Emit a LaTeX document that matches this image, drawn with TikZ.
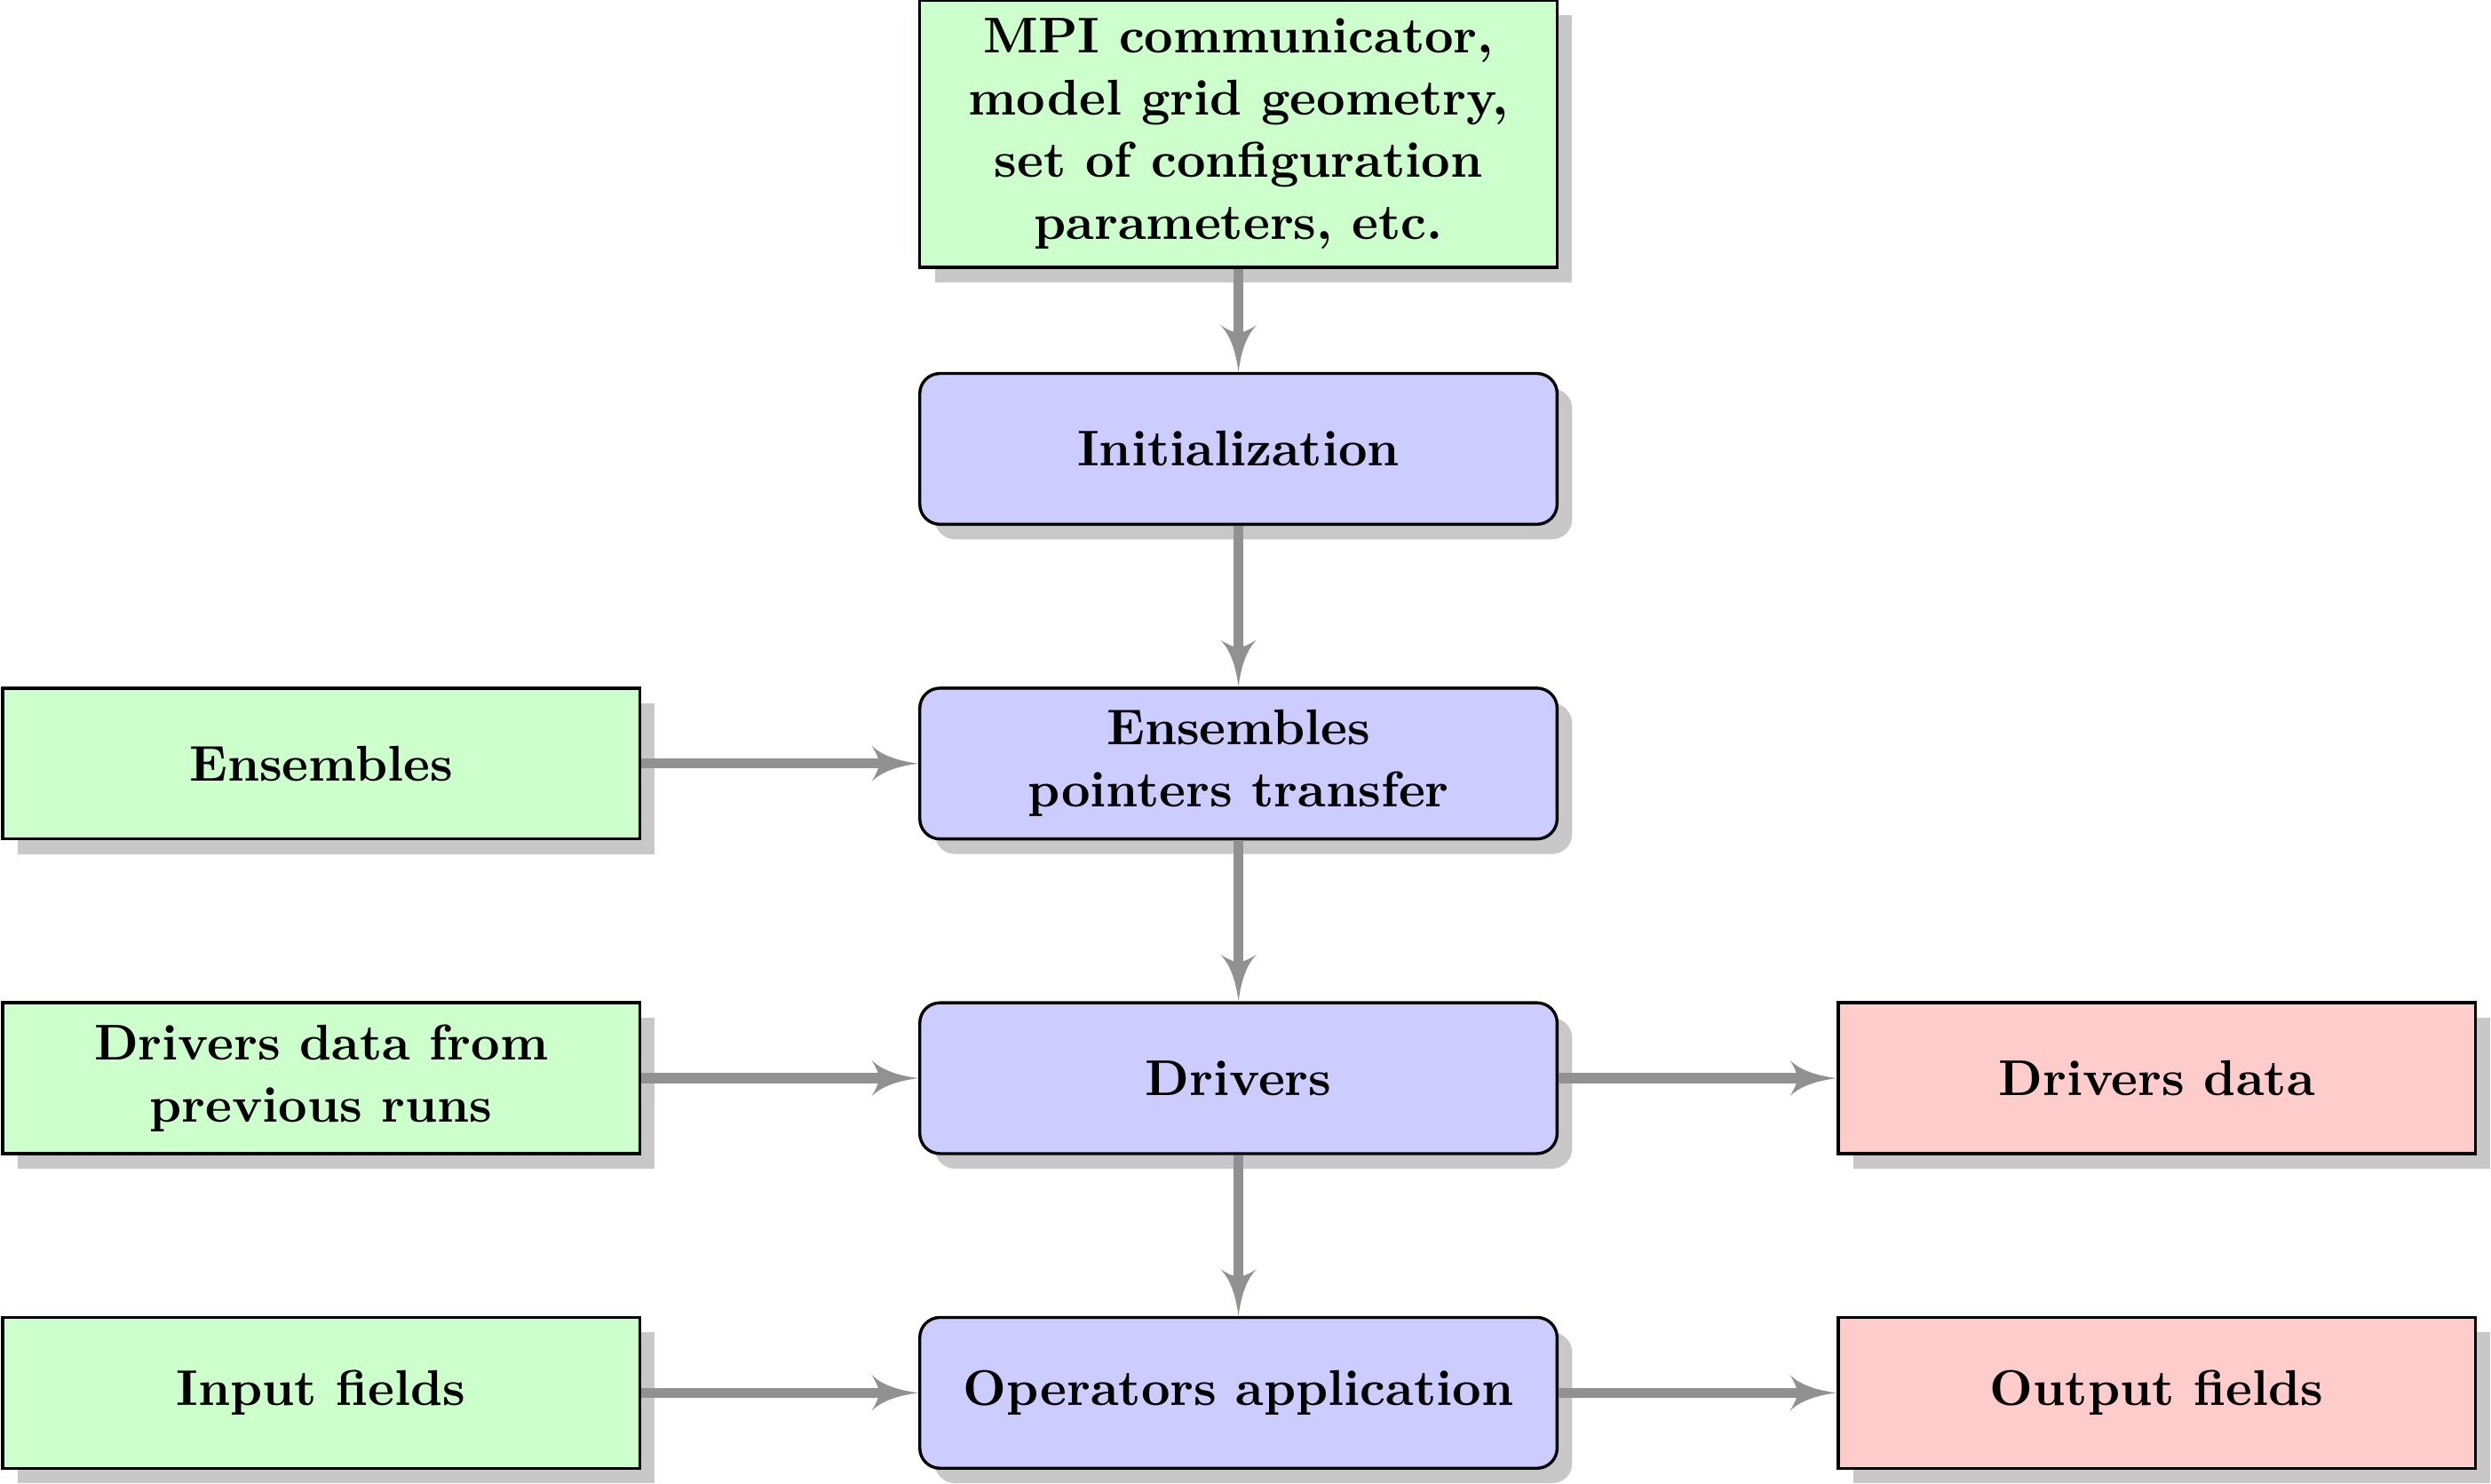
\documentclass[tikz,border=0pt]{standalone}
\usetikzlibrary{arrows.meta,shadows}
\definecolor{arrgray}{RGB}{145,145,145}
\definecolor{shgray}{RGB}{200,200,200}
\pgfdeclarearrow{
  name=CurvedStealth,
  parameters={\the\pgfarrowlength,\the\pgfarrowwidth},
  setup code={
    \pgfarrowssettipend{0pt}
    \pgfarrowssetbackend{-\pgfarrowlength}
    \pgfarrowssetlineend{-0.7\pgfarrowlength}
    \pgfarrowshullpoint{0pt}{0pt}
    \pgfarrowshullpoint{-\pgfarrowlength}{0.5\pgfarrowwidth}
    \pgfarrowshullpoint{-\pgfarrowlength}{-0.5\pgfarrowwidth}
    \pgfarrowssavethe\pgfarrowlength
    \pgfarrowssavethe\pgfarrowwidth
  },
  drawing code={
    \pgfpathmoveto{\pgfpoint{0pt}{0pt}}
    \pgfpathcurveto{\pgfpoint{-0.35\pgfarrowlength}{0.06\pgfarrowwidth}}{\pgfpoint{-0.75\pgfarrowlength}{0.18\pgfarrowwidth}}{\pgfpoint{-\pgfarrowlength}{0.5\pgfarrowwidth}}
    \pgfpathcurveto{\pgfpoint{-0.88\pgfarrowlength}{0.25\pgfarrowwidth}}{\pgfpoint{-0.84\pgfarrowlength}{0.1\pgfarrowwidth}}{\pgfpoint{-0.84\pgfarrowlength}{0pt}}
    \pgfpathcurveto{\pgfpoint{-0.84\pgfarrowlength}{-0.1\pgfarrowwidth}}{\pgfpoint{-0.88\pgfarrowlength}{-0.25\pgfarrowwidth}}{\pgfpoint{-\pgfarrowlength}{-0.5\pgfarrowwidth}}
    \pgfpathcurveto{\pgfpoint{-0.75\pgfarrowlength}{-0.18\pgfarrowwidth}}{\pgfpoint{-0.35\pgfarrowlength}{-0.06\pgfarrowwidth}}{\pgfpoint{0pt}{0pt}}
    \pgfpathclose
    \pgfusepathqfill
  },
  defaults={length=9.3pt,width=7.2pt}
}
\tikzset{
  base/.style={draw=black, line width=0.6pt, minimum width=126.8pt, minimum height=30pt,
    align=center, font=\bfseries\fontsize{10}{12.4}\selectfont, text=black,
    drop shadow={shadow xshift=3pt, shadow yshift=-3pt, fill=shgray, opacity=1}},
  inbox/.style={base, fill={rgb,255:red,204;green,255;blue,204}},
  procbox/.style={base, rounded corners=4pt, fill={rgb,255:red,204;green,204;blue,255}},
  outbox/.style={base, fill={rgb,255:red,255;green,204;blue,204}},
  flow/.style={draw=arrgray, line width=2pt, -{CurvedStealth}}
}
\begin{document}
\begin{tikzpicture}
\useasboundingbox (0,0) rectangle (495.6pt,-295.2pt);
\node[inbox, inner ysep=3.6pt] (cfg) at (246.4pt,-26.6pt) {MPI communicator,\\model grid geometry,\\set of configuration\\parameters, etc.};
\node[procbox] (init) at (246.4pt,-89.3pt) {Initialization};
\node[procbox] (ens) at (246.4pt,-151.9pt) {Ensembles\\pointers transfer};
\node[procbox] (drv) at (246.4pt,-214.5pt) {Drivers};
\node[procbox] (ops) at (246.4pt,-277.1pt) {Operators application};
\node[inbox] (ensin) at (63.9pt,-151.9pt) {Ensembles};
\node[inbox] (drvin) at (63.9pt,-214.5pt) {Drivers data from\\previous runs};
\node[inbox] (fin) at (63.9pt,-277.1pt) {Input fields};
\node[outbox] (drvout) at (429.1pt,-214.5pt) {Drivers data};
\node[outbox] (fout) at (429.1pt,-277.1pt) {Output fields};
\draw[flow] (cfg) -- (init);
\draw[flow] (init) -- (ens);
\draw[flow] (ens) -- (drv);
\draw[flow] (drv) -- (ops);
\draw[flow] (ensin) -- (ens);
\draw[flow] (drvin) -- (drv);
\draw[flow] (fin) -- (ops);
\draw[flow] (drv) -- (drvout);
\draw[flow] (ops) -- (fout);
\end{tikzpicture}
\end{document}
